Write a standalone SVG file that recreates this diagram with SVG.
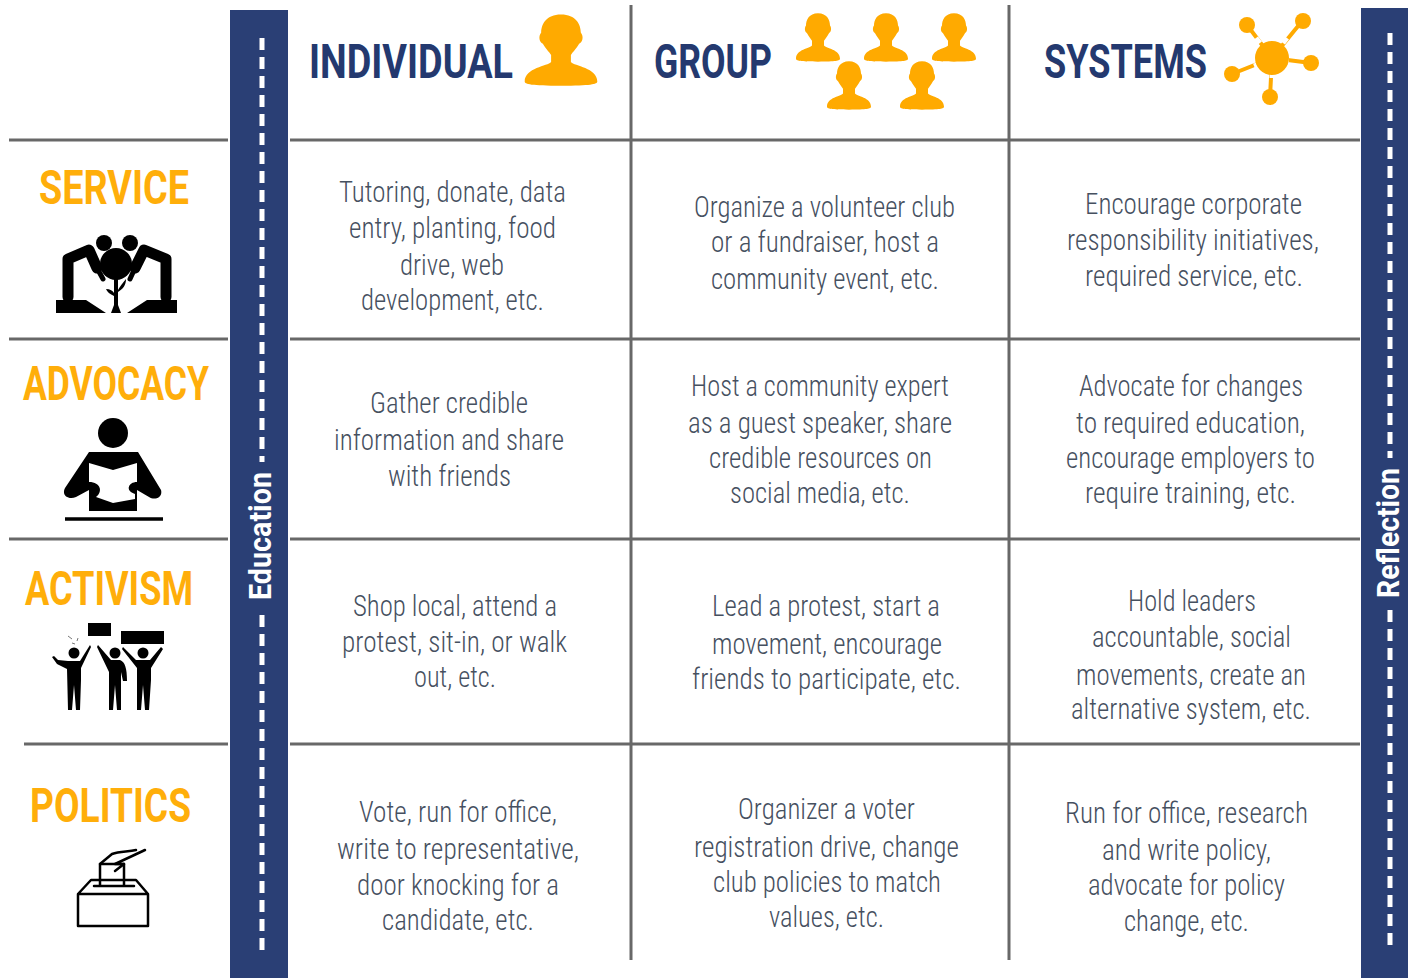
<svg xmlns="http://www.w3.org/2000/svg" width="1408" height="978" viewBox="0 0 1408 978">
<style>
.b{font-family:"Roboto Condensed",Roboto,"Liberation Sans",sans-serif;font-size:29px;font-weight:300;fill:#46505f}
.h{font-family:Roboto,"Liberation Sans",sans-serif;font-size:49px;font-weight:700;fill:#24396f}
.r{font-family:Roboto,"Liberation Sans",sans-serif;font-size:49px;font-weight:700;fill:#ffae0a}
.v{font-family:Roboto,"Liberation Sans",sans-serif;font-size:31px;font-weight:700;fill:#fff}
.g{stroke:#686868;stroke-width:3;fill:none}
.d{stroke:#fff;stroke-width:5;fill:none;stroke-dasharray:12 7}
.o{fill:#ffaa00}
.k{fill:#000}
.ks{stroke:#000;fill:none;stroke-linecap:round;stroke-linejoin:round}
</style>
<defs>
<g id="person"><path d="M0-24C-9-24-12-17-12-11C-14-8-13-4-11-3C-9 1-7 3-6 5V10C-8 13-22 14-22 24C-22 26-18 27 0 27S22 26 22 24C22 14 8 13 6 10V5C7 3 9 1 11-3C13-4 14-8 12-11C12-17 9-24 0-24Z"/></g>
</defs>
<rect width="1408" height="978" fill="#fff"/>
<g id="connectors">
<path class="g" d="M9 140H228M290 140H1360M9 339H228M290 339H1360M9 539H228M290 539H1360M24 744H228M290 744H1360"/>
<path class="g" d="M631 5V960M1009 5V960"/>
</g>
<g id="education">
<rect x="230" y="10" width="58" height="968" fill="#2a3f75"/>
<path class="d" d="M262 38V462"/>
<path class="d" d="M262 615V955"/>
<text class="v" transform="translate(271 600) rotate(-90)" textLength="128" lengthAdjust="spacingAndGlyphs">Education</text>
</g>
<g id="reflection">
<rect x="1361" y="8" width="47" height="970" fill="#2a3f75"/>
<path class="d" d="M1390 33V458"/>
<path class="d" d="M1390 610V952"/>
<text class="v" transform="translate(1399 598) rotate(-90)" textLength="130" lengthAdjust="spacingAndGlyphs">Reflection</text>
</g>
<g id="col-individual">
<text class="h" x="309" y="78" textLength="204" lengthAdjust="spacingAndGlyphs">INDIVIDUAL</text>
<use href="#person" class="o" transform="translate(561 48) scale(1.65 1.4)"/>
</g>
<g id="col-group">
<text class="h" x="654" y="78" textLength="118" lengthAdjust="spacingAndGlyphs">GROUP</text>
<g class="o">
<use href="#person" transform="translate(818 36) scale(1 .95)"/>
<use href="#person" transform="translate(886 36) scale(1 .95)"/>
<use href="#person" transform="translate(954 36) scale(1 .95)"/>
<use href="#person" transform="translate(849 84) scale(1 .95)"/>
<use href="#person" transform="translate(922 84) scale(1 .95)"/>
</g>
</g>
<g id="col-systems">
<text class="h" x="1044" y="78" textLength="163" lengthAdjust="spacingAndGlyphs">SYSTEMS</text>
<path d="M1272 58L1247 25M1272 58L1303 20M1272 58L1311 63M1272 58L1232 74M1272 58L1270 97" stroke="#ffaa00" stroke-width="4"/>
<path d="M1256 38l4 5M1287 38l-4 5M1289 60h-5M1254 66l5-2M1272 78v-4" stroke="#fff" stroke-width="5"/>
<g class="o"><circle cx="1272" cy="58" r="17"/><circle cx="1247" cy="25" r="8"/><circle cx="1303" cy="21" r="8"/><circle cx="1311" cy="63" r="8"/><circle cx="1232" cy="74" r="8"/><circle cx="1270" cy="97" r="8"/></g>
</g>
<g id="row-service">
<text class="r" x="39" y="204" textLength="150" lengthAdjust="spacingAndGlyphs">SERVICE</text>
<g class="k"><circle cx="104" cy="243" r="8"/><circle cx="130" cy="243" r="8"/><circle cx="116" cy="264" r="16"/>
<path d="M56 300H86L106 313H56ZM177 300H147L127 313H177Z"/>
<path d="M114 275h4v30l3 8h-10l3-8Z"/>
<path d="M114 296C110 294 107 292 106 289C110 289 113 291 114 293ZM118 290C120 286 123 283 126 279C126 285 123 289 118 292Z"/></g>
<path class="ks" stroke-width="11" d="M68 297V259L89 250L97 268M166 297V259L144 250L135 268" style="stroke-linecap:round"/>
<path class="ks" stroke-width="5" d="M97 268L103 279M135 268L130 279"/>
</g>
<g id="row-advocacy">
<text class="r" x="23" y="400" textLength="186" lengthAdjust="spacingAndGlyphs">ADVOCACY</text>
<circle cx="113" cy="433" r="15" class="k"/>
<path class="k" d="M89 452H138L161 490C163 497 155 501 149 497L137 490V511H89V490L76 497C69 500 61 496 65 488Z"/>
<path fill="#fff" d="M89 463L113 470L137 463V482C128 482 125 491 135 494V499L113 503L96 497C103 492 101 482 89 482Z"/>
<path stroke="#000" stroke-width="3.5" d="M65 519H163" fill="none"/>
</g>
<g id="row-activism">
<text class="r" x="25" y="605" textLength="168" lengthAdjust="spacingAndGlyphs">ACTIVISM</text>
<g class="k">
<rect x="88" y="623" width="23" height="13"/><rect x="121" y="631" width="43" height="13"/>
<circle cx="74" cy="653" r="5.5"/><circle cx="115" cy="653" r="5.5"/><circle cx="143" cy="653" r="5.5"/>
<path d="M68 661H80L90 645L91 647L81 668V680L80 710H76L74 685L72 710H68L67 669L57 664L52 657L54 656L58 660Z"/>
<path d="M98 645L111 660H120C125 662 127 668 127 681H123L121 672V710H117L115 685L113 710H109V672L97 647Z"/>
<path d="M123 647L136 660H150L161 647L163 649L151 668V680L149 710H145L143 685L141 710H137V668L122 649Z"/>
</g>
<path d="M68 636l4 3M72 643l3 1M77 641l1-3" stroke="#777" stroke-width="1" fill="none"/>
</g>
<g id="row-politics">
<text class="r" x="30" y="822" textLength="161" lengthAdjust="spacingAndGlyphs">POLITICS</text>
<path class="ks" stroke-width="2.5" d="M78 894H148V926H78ZM78 894L91 880H136L148 894M94 886H134"/>
<path class="ks" stroke-width="2.5" d="M100 885V864H124V885"/>
<path class="ks" stroke-width="2.5" d="M100 864L112 854C120 851 128 852 136 850M124 864H115L145 850M115 871L124 864"/>
</g>
<g id="cells" class="b">
<text x="339" y="202" textLength="227" lengthAdjust="spacingAndGlyphs">Tutoring, donate, data</text>
<text x="349" y="238" textLength="207" lengthAdjust="spacingAndGlyphs">entry, planting, food</text>
<text x="400" y="275" textLength="104" lengthAdjust="spacingAndGlyphs">drive, web</text>
<text x="361" y="310" textLength="183" lengthAdjust="spacingAndGlyphs">development, etc.</text>
<text x="370" y="413" textLength="158" lengthAdjust="spacingAndGlyphs">Gather credible</text>
<text x="334" y="450" textLength="230" lengthAdjust="spacingAndGlyphs">information and share</text>
<text x="388" y="486" textLength="123" lengthAdjust="spacingAndGlyphs">with friends</text>
<text x="353" y="616" textLength="204" lengthAdjust="spacingAndGlyphs">Shop local, attend a</text>
<text x="342" y="652" textLength="225" lengthAdjust="spacingAndGlyphs">protest, sit-in, or walk</text>
<text x="414" y="687" textLength="82" lengthAdjust="spacingAndGlyphs">out, etc.</text>
<text x="359" y="822" textLength="198" lengthAdjust="spacingAndGlyphs">Vote, run for office,</text>
<text x="337" y="859" textLength="242" lengthAdjust="spacingAndGlyphs">write to representative,</text>
<text x="357" y="895" textLength="202" lengthAdjust="spacingAndGlyphs">door knocking for a</text>
<text x="382" y="930" textLength="152" lengthAdjust="spacingAndGlyphs">candidate, etc.</text>
<text x="694" y="217" textLength="261" lengthAdjust="spacingAndGlyphs">Organize a volunteer club</text>
<text x="711" y="252" textLength="228" lengthAdjust="spacingAndGlyphs">or a fundraiser, host a</text>
<text x="711" y="289" textLength="228" lengthAdjust="spacingAndGlyphs">community event, etc.</text>
<text x="691" y="396" textLength="258" lengthAdjust="spacingAndGlyphs">Host a community expert</text>
<text x="688" y="433" textLength="264" lengthAdjust="spacingAndGlyphs">as a guest speaker, share</text>
<text x="709" y="468" textLength="223" lengthAdjust="spacingAndGlyphs">credible resources on</text>
<text x="730" y="503" textLength="180" lengthAdjust="spacingAndGlyphs">social media, etc.</text>
<text x="712" y="616" textLength="228" lengthAdjust="spacingAndGlyphs">Lead a protest, start a</text>
<text x="712" y="654" textLength="230" lengthAdjust="spacingAndGlyphs">movement, encourage</text>
<text x="692" y="689" textLength="269" lengthAdjust="spacingAndGlyphs">friends to participate, etc.</text>
<text x="738" y="819" textLength="177" lengthAdjust="spacingAndGlyphs">Organizer a voter</text>
<text x="694" y="857" textLength="265" lengthAdjust="spacingAndGlyphs">registration drive, change</text>
<text x="713" y="892" textLength="228" lengthAdjust="spacingAndGlyphs">club policies to match</text>
<text x="769" y="927" textLength="115" lengthAdjust="spacingAndGlyphs">values, etc.</text>
<text x="1085" y="214" textLength="217" lengthAdjust="spacingAndGlyphs">Encourage corporate</text>
<text x="1067" y="250" textLength="252" lengthAdjust="spacingAndGlyphs">responsibility initiatives,</text>
<text x="1085" y="286" textLength="218" lengthAdjust="spacingAndGlyphs">required service, etc.</text>
<text x="1079" y="396" textLength="224" lengthAdjust="spacingAndGlyphs">Advocate for changes</text>
<text x="1076" y="433" textLength="229" lengthAdjust="spacingAndGlyphs">to required education,</text>
<text x="1066" y="468" textLength="249" lengthAdjust="spacingAndGlyphs">encourage employers to</text>
<text x="1085" y="503" textLength="211" lengthAdjust="spacingAndGlyphs">require training, etc.</text>
<text x="1128" y="611" textLength="128" lengthAdjust="spacingAndGlyphs">Hold leaders</text>
<text x="1092" y="647" textLength="199" lengthAdjust="spacingAndGlyphs">accountable, social</text>
<text x="1076" y="685" textLength="230" lengthAdjust="spacingAndGlyphs">movements, create an</text>
<text x="1071" y="719" textLength="240" lengthAdjust="spacingAndGlyphs">alternative system, etc.</text>
<text x="1065" y="823" textLength="243" lengthAdjust="spacingAndGlyphs">Run for office, research</text>
<text x="1102" y="860" textLength="169" lengthAdjust="spacingAndGlyphs">and write policy,</text>
<text x="1088" y="895" textLength="197" lengthAdjust="spacingAndGlyphs">advocate for policy</text>
<text x="1124" y="931" textLength="125" lengthAdjust="spacingAndGlyphs">change, etc.</text>
</g>
</svg>
